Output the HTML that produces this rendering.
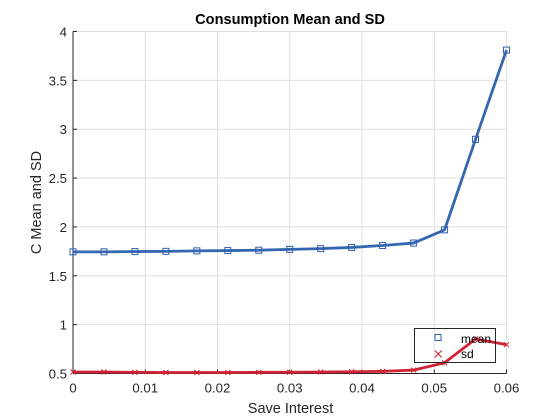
<!DOCTYPE html>
<html>
<head>
<meta charset="utf-8">
<style>
html,body{margin:0;padding:0;background:#fff;width:560px;height:420px;overflow:hidden}
svg{display:block}
text{font-family:"Liberation Sans",Arial,sans-serif}
</style>
</head>
<body>
<svg id="chart" width="560" height="420" viewBox="0 0 560 420" xmlns="http://www.w3.org/2000/svg">
  <rect x="0" y="0" width="560" height="420" fill="#fff"/>
  <g id="grid"></g>
  <g id="axes"></g>
  <g id="series"></g>
  <text x="290" y="24" text-anchor="middle" font-size="14.6" font-weight="bold" fill="#000">Consumption Mean and SD</text>
  <text x="290.5" y="413" text-anchor="middle" font-size="14.5" fill="#262626">Save Interest</text>
  <text transform="translate(41,202.5) rotate(-90)" text-anchor="middle" font-size="14.5" fill="#262626">C Mean and SD</text>
  <g>
    <rect x="414.5" y="328.5" width="81" height="34" fill="none" stroke="#262626" stroke-width="1"/>
    <rect x="435" y="334.5" width="6" height="6" fill="none" stroke="#2f5fae" stroke-width="1"/>
    <path d="M434.8 350.5L441.8 357.5M441.8 350.5L434.8 357.5" fill="none" stroke="#cc2030" stroke-width="1"/>
    <text x="461" y="343" font-size="12" fill="#000">mean</text>
    <text x="461" y="358" font-size="12" fill="#000">sd</text>
  </g>
</svg>
<script>
var xValues = [0, 0.0042857, 0.0085714, 0.0128571, 0.0171429, 0.0214286, 0.0257143, 0.03, 0.0342857, 0.0385714, 0.0428571, 0.0471429, 0.0514286, 0.0557143, 0.06];
var meanValues = [1.745, 1.745, 1.748, 1.75, 1.755, 1.758, 1.762, 1.77, 1.778, 1.79, 1.81, 1.835, 1.97, 2.897, 3.81];
var sdValues = [0.515, 0.515, 0.512, 0.51, 0.51, 0.51, 0.512, 0.513, 0.515, 0.518, 0.522, 0.535, 0.61, 0.853, 0.795];
var xTicks = [0, 0.01, 0.02, 0.03, 0.04, 0.05, 0.06];
var xTickLabels = ['0', '0.01', '0.02', '0.03', '0.04', '0.05', '0.06'];
var yTicks = [0.5, 1, 1.5, 2, 2.5, 3, 3.5, 4];
var yTickLabels = ['0.5', '1', '1.5', '2', '2.5', '3', '3.5', '4'];

var NS = 'http://www.w3.org/2000/svg';
var left = 73, right = 506.5, top_ = 31.5, bottom = 373.5;
function sx(v) { return left + (v - 0) / 0.06 * (right - left); }
function sy(v) { return bottom - (v - 0.5) / 3.5 * (bottom - top_); }
function mk(parent, tag, attrs) {
  var el = document.createElementNS(NS, tag);
  for (var k in attrs) el.setAttribute(k, attrs[k]);
  parent.appendChild(el);
  return el;
}
var grid = document.getElementById('grid');
var axes = document.getElementById('axes');
var series = document.getElementById('series');

xTicks.forEach(function (t, i) {
  var x = sx(t);
  if (i > 0) {
    var g = mk(grid, 'line', {x1: x, x2: x, y1: top_, y2: bottom, stroke: '#dfdfdf', 'stroke-width': 1});
    
    
  }
  var tick = mk(axes, 'line', {x1: x, x2: x, y1: bottom, y2: bottom - 4, stroke: '#262626', 'stroke-width': 1});
  
  
  var lab = mk(axes, 'text', {x: x, y: bottom + 19, 'text-anchor': 'middle', 'font-size': 13.2, fill: '#262626'});
  lab.textContent = xTickLabels[i];
  
  
});
yTicks.forEach(function (t, i) {
  var y = sy(t);
  if (i > 0) {
    var g = mk(grid, 'line', {x1: left, x2: right, y1: y, y2: y, stroke: '#dfdfdf', 'stroke-width': 1});
    
    
  }
  var tick = mk(axes, 'line', {x1: left, x2: left + 4, y1: y, y2: y, stroke: '#262626', 'stroke-width': 1});
  
  
  var lab = mk(axes, 'text', {x: left - 6, y: y + 5, 'text-anchor': 'end', 'font-size': 13.2, fill: '#262626'});
  lab.textContent = yTickLabels[i];
  
  
});
var xAxis = mk(axes, 'line', {x1: left, x2: right, y1: bottom, y2: bottom, stroke: '#262626', 'stroke-width': 1});


var yAxis = mk(axes, 'line', {x1: left, x2: left, y1: top_, y2: bottom, stroke: '#262626', 'stroke-width': 1});



function pts(vals) {
  return vals.map(function (v, i) { return sx(xValues[i]).toFixed(2) + ',' + sy(v).toFixed(2); }).join(' ');
}
var meanLine = mk(series, 'polyline', {points: pts(meanValues), fill: 'none', stroke: '#3566b0', 'stroke-width': 2.8, 'stroke-linejoin': 'round'});


var sdLine = mk(series, 'polyline', {points: pts(sdValues), fill: 'none', stroke: '#cf2435', 'stroke-width': 2.8, 'stroke-linejoin': 'round'});



meanValues.forEach(function (v, i) {
  var m = mk(series, 'rect', {x: sx(xValues[i]) - 3, y: sy(v) - 3, width: 6, height: 6, fill: 'none', stroke: '#2f5fae', 'stroke-width': 1});
  
  
});
sdValues.forEach(function (v, i) {
  var x = sx(xValues[i]), y = sy(v);
  var m = mk(series, 'path', {d: 'M' + (x - 2.5) + ' ' + (y - 2.5) + 'L' + (x + 2.5) + ' ' + (y + 2.5) + 'M' + (x + 2.5) + ' ' + (y - 2.5) + 'L' + (x - 2.5) + ' ' + (y + 2.5), fill: 'none', stroke: '#cc2030', 'stroke-width': 1});
  
  
});
</script>
</body>
</html>
